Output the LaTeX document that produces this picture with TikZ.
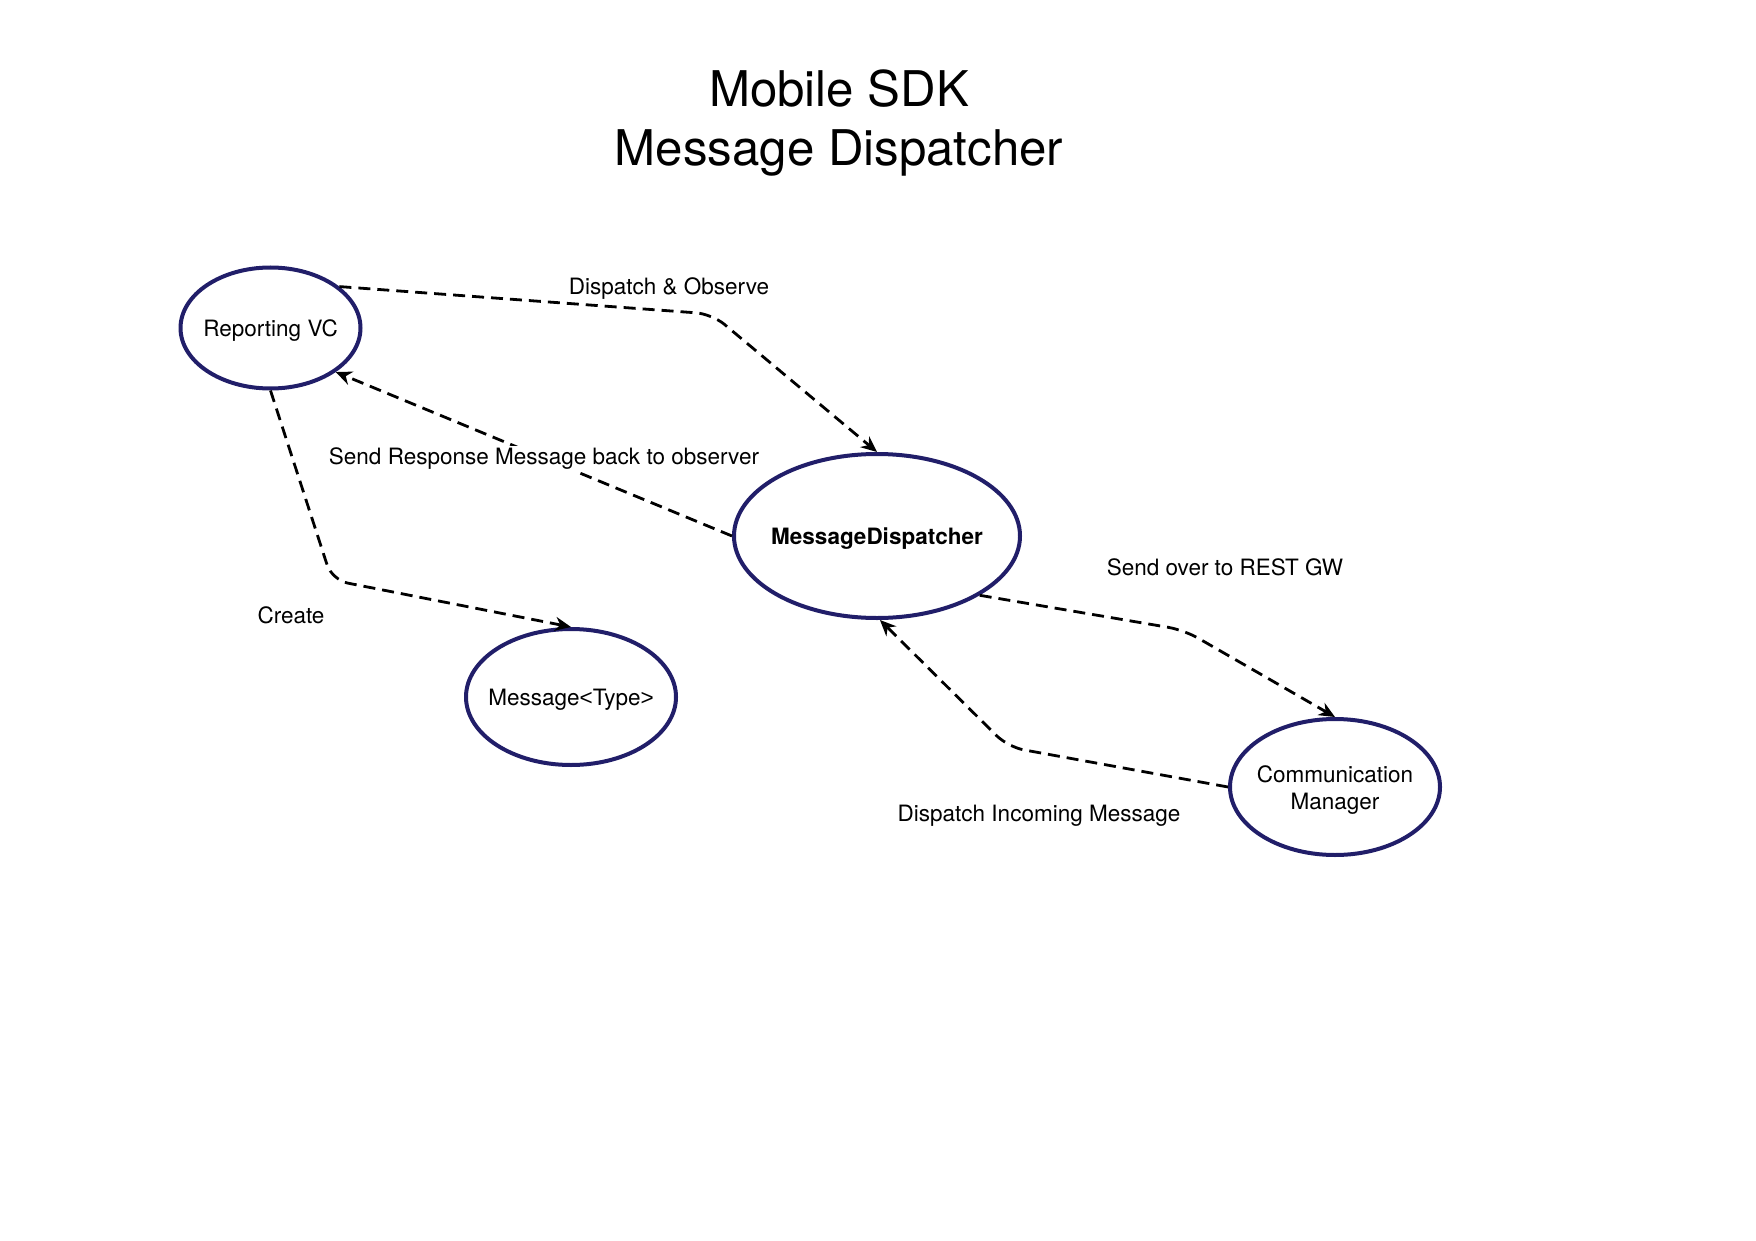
\documentclass[tikz,border=0pt]{standalone}
\usepackage{fontspec}
\setmainfont{TeX Gyre Heros}
\newfontfamily\symfont{Liberation Sans}
\usetikzlibrary{shapes.geometric,arrows.meta}
\definecolor{navy}{RGB}{33,30,105}
\begin{document}
\begin{tikzpicture}[x=0.5pt,y=-0.5pt,
  state/.style={ellipse, draw=navy, line width=2pt, inner sep=0pt},
  intext/.style={font=\fontsize{11.25}{13.4}\selectfont, align=center, inner sep=0pt, yshift=-1.5pt},
  flow/.style={draw=black, line width=1.4pt, dash pattern=on 6pt off 3.5pt,
    rounded corners=8pt, -{Stealth[length=8pt,width=7pt]}},
  lbl/.style={font=\fontsize{11.25}{13.4}\selectfont, inner sep=1pt, yshift=-1.5pt},
  ttl/.style={font=\fontsize{24.6}{29.5}\selectfont, align=center, inner sep=0pt}]
\useasboundingbox (0,0) rectangle (1756,1241);
\node[ttl] (title) at (839,123) {Mobile SDK\\Message Dispatcher};

\node[state, minimum width=90pt, minimum height=60.5pt,
  label={[intext]center:Reporting VC}] (rvc) at (270.5,328) {};
\node[state, minimum width=143pt, minimum height=82pt,
  label={[intext]center:\bfseries MessageDispatcher}] (md) at (877,536) {};
\node[state, minimum width=105pt, minimum height=68pt,
  label={[intext]center:Message{\symfont<}Type{\symfont>}}] (msg) at (571,697) {};
\node[state, minimum width=105pt, minimum height=68pt,
  label={[intext]center:{Communication\\Manager}}] (cm) at (1335,787) {};

\coordinate (c1) at (712,314);
\coordinate (c3) at (332,580);
\coordinate (c4) at (1184,630);
\coordinate (c5) at (1008,747);

\draw[flow] (rvc.31) -- (c1) -- (md.north);
\draw[flow] (md.west) -- (rvc.-34);
\draw[flow] (rvc.south) -- (c3) -- (msg.north);
\draw[flow] (md.-30) -- (c4) -- (cm.north);
\draw[flow] (cm.west) -- (c5) -- (md.-88);

\node[lbl] (l1) at (669,286) {Dispatch \& Observe};
\node[lbl, fill=white] (l2) at (544,456) {Send Response Message back to observer};
\node[lbl] (l3) at (291,612) {Create};
\node[lbl] (l4) at (1225,564) {Send over to REST GW};
\node[lbl] (l5) at (1039,813) {Dispatch Incoming Message};
\end{tikzpicture}
\end{document}
